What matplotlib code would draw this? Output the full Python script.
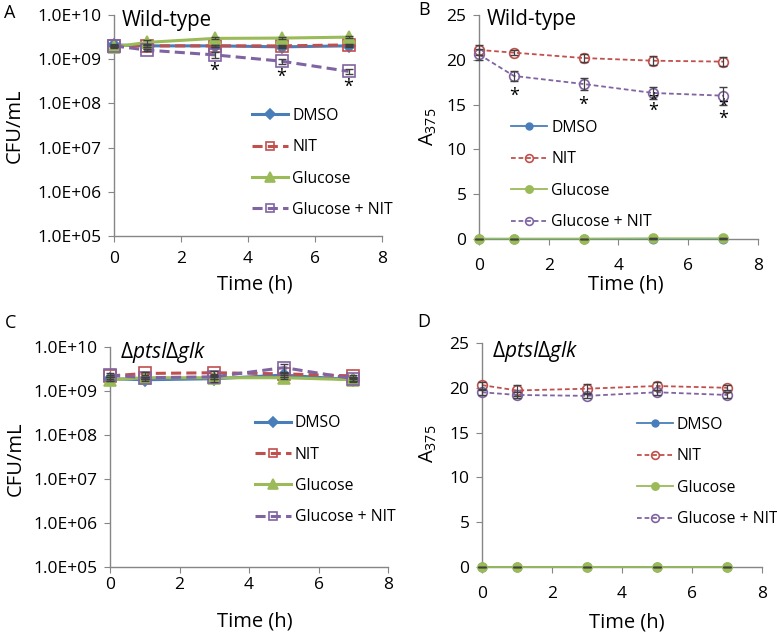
"""
Four-panel figure: survival (CFU/mL) and A375 over time for wild-type
and the ptsI/glk double mutant, with DMSO / NIT / Glucose / Glucose + NIT.
"""
import matplotlib.pyplot as plt
import numpy as np

plt.rcParams['font.family'] = ['Open Sans', 'DejaVu Sans']
plt.rcParams['mathtext.fontset'] = 'custom'
plt.rcParams['mathtext.rm'] = 'Open Sans'
plt.rcParams['mathtext.it'] = 'Open Sans:italic'

#%% ---------------- data ---------------- ###
time_h = [0, 1, 3, 5, 7]
series = ['DMSO', 'NIT', 'Glucose', 'Glucose + NIT']

# A: wild-type, CFU/mL
wt_cfu = {
    'DMSO':          [2.1e9, 2.0e9, 2.0e9, 1.9e9, 2.0e9],
    'NIT':           [2.0e9, 2.0e9, 2.0e9, 2.0e9, 2.1e9],
    'Glucose':       [1.9e9, 2.4e9, 2.95e9, 3.0e9, 3.15e9],
    'Glucose + NIT': [2.0e9, 1.6e9, 1.25e9, 9.0e8, 5.3e8],
}
wt_cfu_err = {
    'DMSO':          [0.1e9, 0.1e9, 0.1e9, 0.1e9, 0.1e9],
    'NIT':           [0.1e9, 0.1e9, 0.1e9, 0.1e9, 0.1e9],
    'Glucose':       [0.1e9, 0.25e9, 0.15e9, 0.2e9, 0.15e9],
    'Glucose + NIT': [0.1e9, 0.1e9, 0.17e9, 0.12e9, 0.07e9],
}

# B: wild-type, A375
wt_abs = {
    'DMSO':          [0.05, 0.05, 0.05, 0.05, 0.05],
    'NIT':           [21.1, 20.8, 20.2, 19.9, 19.8],
    'Glucose':       [0.05, 0.05, 0.05, 0.08, 0.08],
    'Glucose + NIT': [20.6, 18.2, 17.3, 16.3, 16.0],
}
wt_abs_err = {
    'DMSO':          [0, 0, 0, 0, 0],
    'NIT':           [0.6, 0.3, 0.4, 0.5, 0.5],
    'Glucose':       [0, 0, 0, 0, 0],
    'Glucose + NIT': [0.6, 0.6, 0.7, 0.7, 1.0],
}

# C: ptsI/glk mutant, CFU/mL
mut_cfu = {
    'DMSO':          [1.9e9, 1.8e9, 1.9e9, 2.3e9, 1.8e9],
    'NIT':           [2.2e9, 2.5e9, 2.6e9, 2.45e9, 2.2e9],
    'Glucose':       [1.8e9, 2.0e9, 2.0e9, 2.0e9, 1.8e9],
    'Glucose + NIT': [2.3e9, 2.0e9, 2.1e9, 3.4e9, 1.9e9],
}
mut_cfu_err = {
    'DMSO':          [0.2e9, 0.1e9, 0.3e9, 0.2e9, 0.2e9],
    'NIT':           [0.1e9, 0.2e9, 0.2e9, 0.2e9, 0.1e9],
    'Glucose':       [0.1e9, 0.1e9, 0.1e9, 0.1e9, 0.1e9],
    'Glucose + NIT': [0.2e9, 0.1e9, 0.2e9, 0.8e9, 0.2e9],
}

# D: ptsI/glk mutant, A375
mut_abs = {
    'DMSO':          [0.05, 0.05, 0.05, 0.05, 0.05],
    'NIT':           [20.3, 19.7, 19.9, 20.2, 20.0],
    'Glucose':       [0.05, 0.05, 0.05, 0.05, 0.05],
    'Glucose + NIT': [19.5, 19.2, 19.1, 19.5, 19.2],
}
mut_abs_err = {
    'DMSO':          [0, 0, 0, 0, 0],
    'NIT':           [0.4, 0.6, 0.5, 0.5, 0.3],
    'Glucose':       [0, 0, 0, 0, 0],
    'Glucose + NIT': [0.3, 0.3, 0.2, 0.3, 0.3],
}

# significance marks (x, y)
stars_a = [(3, 7.4e8), (5, 5.2e8), (7, 3.1e8)]
stars_b = [(1, 16.6), (3, 15.6), (5, 16.0), (5, 14.9), (7, 15.4), (7, 14.0)]

cfu_ticks = [1e5, 1e6, 1e7, 1e8, 1e9, 1e10]
cfu_labels = ['1.0E+05', '1.0E+06', '1.0E+07', '1.0E+08', '1.0E+09', '1.0E+10']
abs_ticks = [0, 5, 10, 15, 20, 25]

#%% ---------------- style ---------------- ###
colours = {'DMSO': '#4A7EBB', 'NIT': '#C0504D',
           'Glucose': '#9BBB59', 'Glucose + NIT': '#8064A2'}

dash_thick = (0, (3.3, 1.7))
dash_thin = (0, (2.6, 1.6))
cfu_style = {
    'DMSO':          dict(ls='-', marker='D', ms=6, mfc='#4A7EBB'),
    'NIT':           dict(ls=dash_thick, marker='s', ms=8, mfc='none'),
    'Glucose':       dict(ls='-', marker='^', ms=9, mfc='#9BBB59'),
    'Glucose + NIT': dict(ls=dash_thick, marker='s', ms=8, mfc='none'),
}
abs_style = {
    'DMSO':          dict(ls='-', marker='o', ms=6, mfc='#4A7EBB'),
    'NIT':           dict(ls=dash_thin, marker='o', ms=7, mfc='none'),
    'Glucose':       dict(ls='-', marker='o', ms=6.5, mfc='#9BBB59'),
    'Glucose + NIT': dict(ls=dash_thin, marker='o', ms=7, mfc='none'),
}

grey = '#868686'
tick_fs = 12.5
label_fs = 14.5
legend_fs = 11.3


def draw_panel(ax, values, errors, styles, lw, log):
    for name in series:
        ax.errorbar(time_h, values[name], yerr=errors[name], fmt='none',
                    ecolor='#404040', elinewidth=0.9, capsize=3, zorder=4)
    for name in series:
        ax.plot(time_h, values[name], color=colours[name], lw=lw,
                mec=colours[name], mew=1.2, label=name, zorder=3,
                **styles[name])

    ax.set_xlim(0, 8)
    ax.set_xticks([0, 2, 4, 6, 8])
    if log:
        ax.set_yscale('log')
        ax.set_ylim(1e5, 1e10)
        ax.set_yticks(cfu_ticks, cfu_labels)
        ax.minorticks_off()
    else:
        ax.set_ylim(0, 25)
        ax.set_yticks(abs_ticks)

    for side in ['top', 'right']:
        ax.spines[side].set_visible(False)
    for side in ['left', 'bottom']:
        ax.spines[side].set_color(grey)
        ax.spines[side].set_linewidth(1.0)
        ax.spines[side].set_zorder(1)
    ax.tick_params(direction='out', length=4, color=grey, labelsize=tick_fs,
                   labelcolor='black')
    for child in ax.get_children():
        if hasattr(child, 'set_clip_on'):
            child.set_clip_on(False)


def add_stars(ax, stars):
    # Open Sans puts '*' high in the em box, so pull it down onto the point
    for x, y in stars:
        ax.annotate('*', (x, y), xytext=(0, -7.5), textcoords='offset points',
                    fontsize=13, ha='center', va='baseline')


fig = plt.figure(figsize=(7.77, 6.34), dpi=100)
ax_a = fig.add_axes([0.1467, 0.6278, 0.345, 0.3486])
ax_b = fig.add_axes([0.6165, 0.6230, 0.359, 0.3533])
ax_c = fig.add_axes([0.1416, 0.1057, 0.358, 0.3470])
ax_d = fig.add_axes([0.6203, 0.1057, 0.3604, 0.3533])

draw_panel(ax_a, wt_cfu, wt_cfu_err, cfu_style, 2.2, True)
draw_panel(ax_b, wt_abs, wt_abs_err, abs_style, 1.3, False)
draw_panel(ax_c, mut_cfu, mut_cfu_err, cfu_style, 2.2, True)
draw_panel(ax_d, mut_abs, mut_abs_err, abs_style, 1.3, False)

# axis labels
for ax, xy in [(ax_a, (0.526, -0.218)), (ax_b, (0.527, -0.203)),
               (ax_c, (0.52, -0.25)), (ax_d, (0.518, -0.246))]:
    ax.set_xlabel('Time (h)', fontsize=label_fs, va='center')
    ax.xaxis.set_label_coords(*xy)

ax_a.set_ylabel('CFU/mL', fontsize=label_fs, va='center')
ax_a.yaxis.set_label_coords(-0.37, 0.5)
ax_c.set_ylabel('CFU/mL', fontsize=label_fs, va='center')
ax_c.yaxis.set_label_coords(-0.34, 0.49)
ax_b.set_ylabel('A$_{375}$', fontsize=label_fs, va='center')
ax_b.yaxis.set_label_coords(-0.183, 0.5)
ax_d.set_ylabel('A$_{375}$', fontsize=label_fs, va='center')
ax_d.yaxis.set_label_coords(-0.193, 0.55)

# x tick label padding differs per panel
ax_a.tick_params(axis='x', pad=6.5)
ax_b.tick_params(axis='x', pad=9.5)
ax_c.tick_params(axis='x', pad=3.5)
ax_d.tick_params(axis='x', pad=10)
for ax in [ax_a, ax_b, ax_c, ax_d]:
    ax.tick_params(axis='y', pad=5)

# strain titles
ax_a.text(0.03, 0.977, 'Wild-type', transform=ax_a.transAxes,
          fontsize=14.8, va='center', ha='left')
ax_b.text(0.029, 0.978, 'Wild-type', transform=ax_b.transAxes,
          fontsize=14.8, va='center', ha='left')
strain = r'$\Delta\mathit{ptsI}\Delta\mathit{glk}$'
ax_c.text(0.036, 0.973, strain, transform=ax_c.transAxes,
          fontsize=15, va='center', ha='left')
ax_d.text(0.036, 0.96, strain, transform=ax_d.transAxes,
          fontsize=15, va='center', ha='left')

add_stars(ax_a, stars_a)
add_stars(ax_b, stars_b)

# legends (Excel draws the legend markers a bit smaller than on the lines)
for ax, anchor in [(ax_a, (0.515, 0.58)), (ax_b, (0.115, 0.532)),
                   (ax_c, (0.52, 0.69)), (ax_d, (0.553, 0.67))]:
    ax.legend(loc='upper left', bbox_to_anchor=anchor, frameon=False,
              fontsize=legend_fs, borderpad=0, borderaxespad=0,
              handlelength=2.3, handletextpad=0.25, labelspacing=0.98,
              markerscale=0.8)

# panel letters
for letter, x, y in [('A', 0.013, 0.979), ('B', 0.546, 0.984),
                     ('C', 0.013, 0.49), ('D', 0.546, 0.492)]:
    fig.text(x, y, letter, fontsize=13, ha='center', va='center')

fig.savefig('out.png', dpi=100)
